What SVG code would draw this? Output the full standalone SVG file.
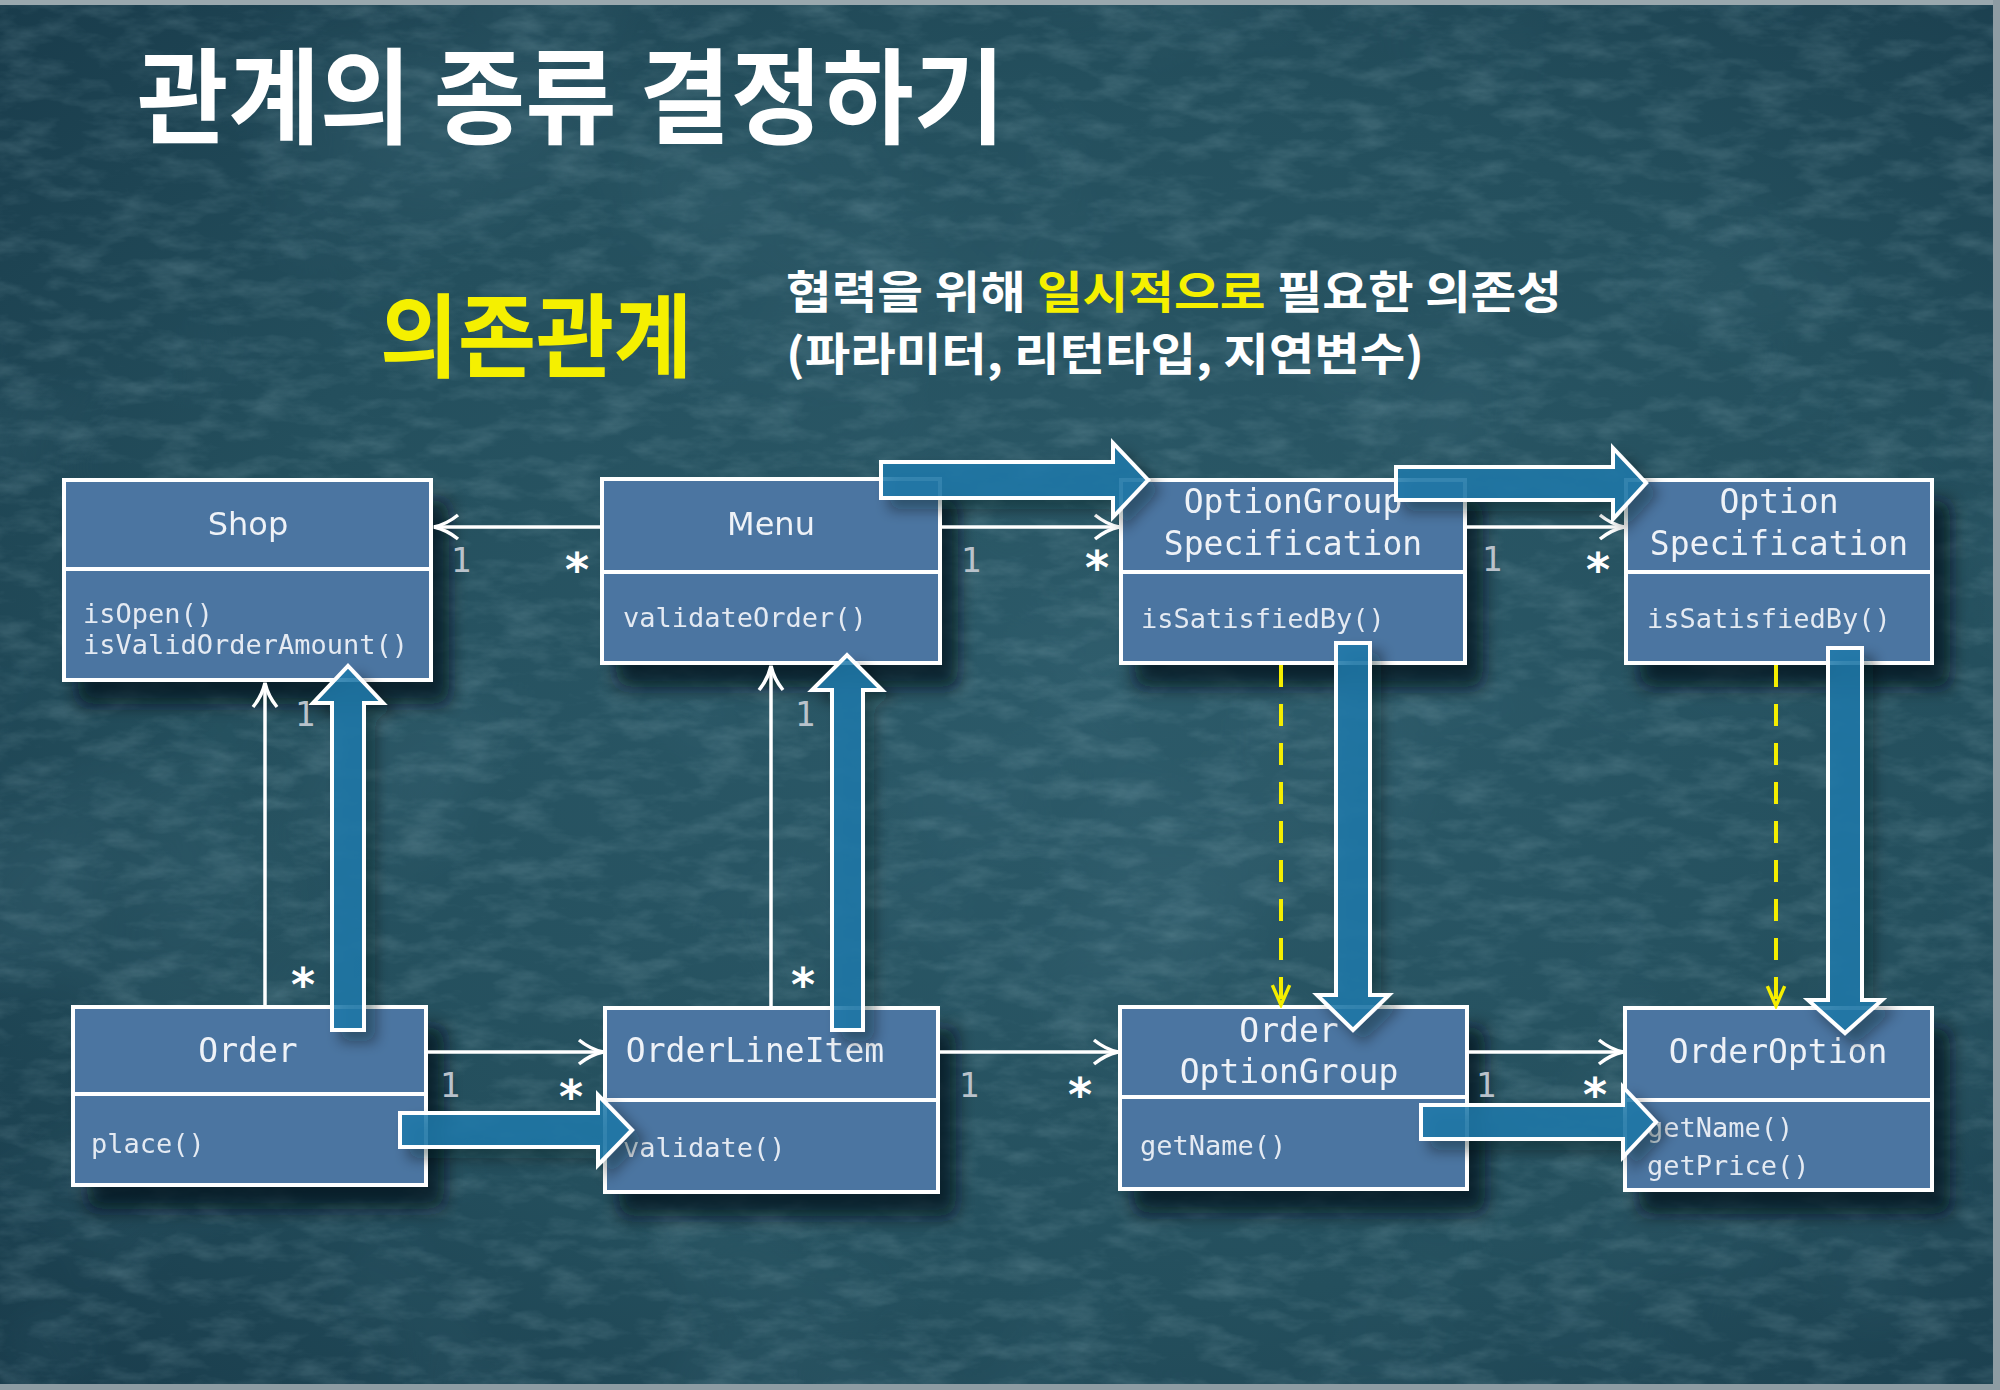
<svg xmlns="http://www.w3.org/2000/svg" width="2000" height="1390" viewBox="0 0 2000 1390">
<defs>
<radialGradient id="bg" cx="0.55" cy="0.5" r="0.8">
<stop offset="0" stop-color="#2c5a69"/>
<stop offset="0.55" stop-color="#244f5d"/>
<stop offset="1" stop-color="#173848"/>
</radialGradient>
<filter id="noise" x="0" y="0" width="100%" height="100%">
<feTurbulence type="fractalNoise" baseFrequency="0.02 0.05" numOctaves="4" seed="7"/>
<feColorMatrix type="matrix" values="0 0 0 0 0.42  0 0 0 0 0.62  0 0 0 0 0.68  1.3 0 0 0 -0.55"/>
</filter>
<filter id="blot" x="0" y="0" width="100%" height="100%">
<feTurbulence type="fractalNoise" baseFrequency="0.003" numOctaves="3" seed="11"/>
<feColorMatrix type="matrix" values="0 0 0 0 0.05  0 0 0 0 0.15  0 0 0 0 0.2  -2 0 0 0 1.05"/>
</filter>
<filter id="shadow" x="-10%" y="-10%" width="130%" height="150%">
<feDropShadow dx="16" dy="22" stdDeviation="9" flood-color="#06141a" flood-opacity="0.75"/>
</filter>
<filter id="ashadow" x="-20%" y="-20%" width="150%" height="150%">
<feDropShadow dx="10" dy="10" stdDeviation="7" flood-color="#06141a" flood-opacity="0.45"/>
</filter>
<marker id="open" viewBox="0 0 30 30" refX="27" refY="15" markerWidth="30" markerHeight="30" markerUnits="userSpaceOnUse" orient="auto">
<path d="M3,3 Q14,12 27,15 Q14,18 3,27" fill="none" stroke="#ffffff" stroke-width="3.5"/>
</marker>
<marker id="openY" viewBox="0 0 30 30" refX="27" refY="15" markerWidth="26" markerHeight="26" markerUnits="userSpaceOnUse" orient="auto">
<path d="M4,5 L27,15 L4,25" fill="none" stroke="#f5ee00" stroke-width="4"/>
</marker>
<style>
.box { fill:#4b74a1; stroke:#ffffff; stroke-width:4; }
.div { stroke:#ffffff; stroke-width:4; }
.name { font-family:"DejaVu Sans Mono","Liberation Mono",monospace; font-size:33px; fill:#eef2f7; text-anchor:middle; }
.sname { font-family:"DejaVu Sans","Liberation Sans",sans-serif; font-size:32px; fill:#eef2f7; text-anchor:middle; }
.op { font-family:"DejaVu Sans Mono","Liberation Mono",monospace; font-size:27px; fill:#e4eaf2; }
.one { font-family:"DejaVu Sans Mono","Liberation Mono",monospace; font-size:34px; fill:#b9c2cb; text-anchor:middle; }
.many { font-family:"DejaVu Sans","Liberation Sans",sans-serif; font-size:46px; font-weight:bold; fill:#ffffff; text-anchor:middle; }
.assoc { stroke:#ffffff; stroke-width:3.5; fill:none; marker-end:url(#open); }
.dep { stroke:#f5ee00; stroke-width:4; fill:none; stroke-dasharray:22 17; marker-end:url(#openY); }
.flow { fill:#2079aa; fill-opacity:0.85; stroke:#ffffff; stroke-width:4; }
.ko { font-family:"Noto Sans CJK KR",sans-serif; font-weight:700; }
</style>
</defs>

<g id="background">
<rect width="2000" height="1390" fill="url(#bg)"/>
<rect width="2000" height="1390" filter="url(#blot)" opacity="0.45"/>
<rect width="2000" height="1390" filter="url(#noise)" opacity="0.3"/>
<rect x="0" y="0" width="2000" height="5" fill="#9aa8ae"/>
<rect x="1993" y="0" width="7" height="1390" fill="#8d9ca3"/>
<rect x="0" y="1384" width="2000" height="6" fill="#8d9ca3"/>
</g>

<g id="titles">
<text class="ko" x="137" y="136" font-size="104" fill="#ffffff" textLength="868" lengthAdjust="spacingAndGlyphs">관계의 종류 결정하기</text>
<text class="ko" x="380" y="370" font-size="91" fill="#f5f000" textLength="312" lengthAdjust="spacingAndGlyphs">의존관계</text>
<text class="ko" x="786" y="309" font-size="45" fill="#ffffff" textLength="776" lengthAdjust="spacingAndGlyphs">협력을 위해 <tspan fill="#f5f000">일시적으로</tspan> 필요한 의존성</text>
<text class="ko" x="786" y="371" font-size="45" fill="#ffffff" textLength="638" lengthAdjust="spacingAndGlyphs">(파라미터, 리턴타입, 지연변수)</text>
</g>

<g id="Shop" filter="url(#shadow)">
<rect class="box" x="64" y="480" width="367" height="200"/>
<line class="div" x1="64" y1="569" x2="431" y2="569"/>
<text class="sname" x="248" y="535">Shop</text>
<text class="op" x="83" y="623">isOpen()</text>
<text class="op" x="83" y="654">isValidOrderAmount()</text>
</g>

<g id="Menu" filter="url(#shadow)">
<rect class="box" x="602" y="479" width="338" height="184"/>
<line class="div" x1="602" y1="572" x2="940" y2="572"/>
<text class="sname" x="771" y="535">Menu</text>
<text class="op" x="623" y="627">validateOrder()</text>
</g>

<g id="OptionGroupSpecification" filter="url(#shadow)">
<rect class="box" x="1121" y="480" width="344" height="183"/>
<line class="div" x1="1121" y1="572" x2="1465" y2="572"/>
<text class="name" x="1293" y="513">OptionGroup</text>
<text class="name" x="1293" y="555">Specification</text>
<text class="op" x="1141" y="628">isSatisfiedBy()</text>
</g>

<g id="OptionSpecification" filter="url(#shadow)">
<rect class="box" x="1626" y="480" width="306" height="183"/>
<line class="div" x1="1626" y1="572" x2="1932" y2="572"/>
<text class="name" x="1779" y="513">Option</text>
<text class="name" x="1779" y="555">Specification</text>
<text class="op" x="1647" y="628">isSatisfiedBy()</text>
</g>

<g id="Order" filter="url(#shadow)">
<rect class="box" x="73" y="1007" width="353" height="178"/>
<line class="div" x1="73" y1="1094" x2="426" y2="1094"/>
<text class="name" x="248" y="1062">Order</text>
<text class="op" x="91" y="1153">place()</text>
</g>

<g id="OrderLineItem" filter="url(#shadow)">
<rect class="box" x="605" y="1008" width="333" height="184"/>
<line class="div" x1="605" y1="1100" x2="938" y2="1100"/>
<text class="name" x="755" y="1062">OrderLineItem</text>
<text class="op" x="623" y="1157">validate()</text>
</g>

<g id="OrderOptionGroup" filter="url(#shadow)">
<rect class="box" x="1120" y="1007" width="347" height="182"/>
<line class="div" x1="1120" y1="1097" x2="1467" y2="1097"/>
<text class="name" x="1289" y="1042">Order</text>
<text class="name" x="1289" y="1083">OptionGroup</text>
<text class="op" x="1140" y="1155">getName()</text>
</g>

<g id="OrderOption" filter="url(#shadow)">
<rect class="box" x="1625" y="1008" width="307" height="182"/>
<line class="div" x1="1625" y1="1100" x2="1932" y2="1100"/>
<text class="name" x="1778" y="1063">OrderOption</text>
<text class="op" x="1647" y="1137">getName()</text>
<text class="op" x="1647" y="1175">getPrice()</text>
</g>

<g id="connectors">
<line class="assoc" x1="602" y1="527" x2="434" y2="527"/>
<line class="assoc" x1="940" y1="527" x2="1119" y2="527"/>
<line class="assoc" x1="1465" y1="527" x2="1624" y2="527"/>
<line class="assoc" x1="265" y1="1007" x2="265" y2="683"/>
<line class="assoc" x1="771" y1="1008" x2="771" y2="666"/>
<line class="assoc" x1="426" y1="1052" x2="603" y2="1052"/>
<line class="assoc" x1="938" y1="1052" x2="1118" y2="1052"/>
<line class="assoc" x1="1467" y1="1052" x2="1623" y2="1052"/>
<line class="dep" x1="1281" y1="665" x2="1281" y2="1005"/>
<line class="dep" x1="1776" y1="665" x2="1776" y2="1006"/>
<g id="multiplicities">
<text class="one" x="461" y="572">1</text>
<text class="many" x="577" y="586">*</text>
<text class="one" x="971" y="572">1</text>
<text class="many" x="1097" y="584">*</text>
<text class="one" x="1492" y="571">1</text>
<text class="many" x="1598" y="586">*</text>
<text class="one" x="305" y="726">1</text>
<text class="many" x="303" y="1001">*</text>
<text class="one" x="805" y="726">1</text>
<text class="many" x="803" y="1001">*</text>
<text class="one" x="450" y="1097">1</text>
<text class="many" x="571" y="1113">*</text>
<text class="one" x="969" y="1097">1</text>
<text class="many" x="1080" y="1111">*</text>
<text class="one" x="1486" y="1097">1</text>
<text class="many" x="1595" y="1111">*</text>
</g>
</g>

<g id="flow-arrows" filter="url(#ashadow)">
<path class="flow" d="M332,1030 L332,703 L313,703 L348,666 L383,703 L364,703 L364,1030 Z"/>
<path class="flow" d="M832,1030 L832,690 L812,690 L847,655 L882,690 L863,690 L863,1030 Z"/>
<path class="flow" d="M881,462 L1113,462 L1113,443 L1148,480 L1113,517 L1113,498 L881,498 Z"/>
<path class="flow" d="M1396,467 L1613,467 L1613,448 L1646,483 L1613,519 L1613,500 L1396,500 Z"/>
<path class="flow" d="M400,1113 L598,1113 L598,1095 L632,1130 L598,1165 L598,1147 L400,1147 Z"/>
<path class="flow" d="M1421,1105 L1623,1105 L1623,1087 L1656,1122 L1623,1157 L1623,1139 L1421,1139 Z"/>
<path class="flow" d="M1336,643 L1370,643 L1370,995 L1389,995 L1353,1030 L1317,995 L1336,995 Z"/>
<path class="flow" d="M1828,648 L1862,648 L1862,1000 L1882,1000 L1845,1033 L1808,1000 L1828,1000 Z"/>
</g>
</svg>
